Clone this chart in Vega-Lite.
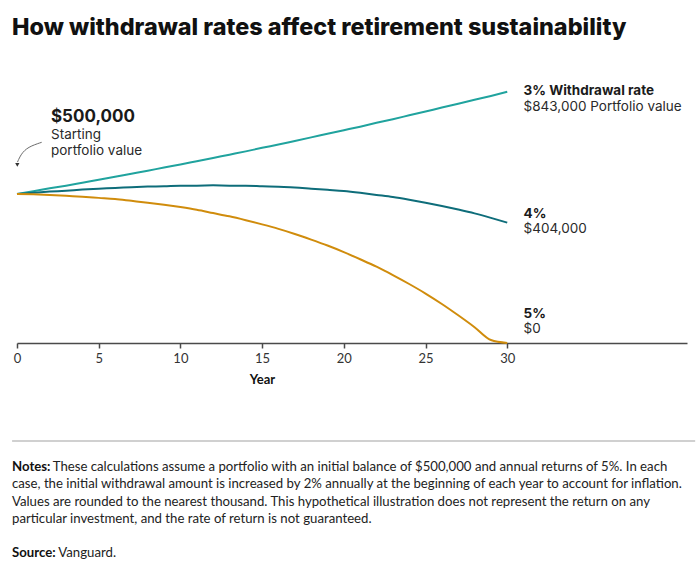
{
  "$schema": "https://vega.github.io/schema/vega-lite/v6.json",
  "width": 670,
  "height": 298,
  "autosize": "none",
  "padding": {"left": 17, "top": 45, "right": 13, "bottom": 226},
  "background": "#ffffff",
  "config": {"view": {"stroke": null}, "font": "Lato"},
  "title": {
    "text": "How withdrawal rates affect retirement sustainability",
    "anchor": "start",
    "frame": "group",
    "dx": -5,
    "dy": 26,
    "offset": 13,
    "baseline": "alphabetic",
    "fontSize": 23.4,
    "font": "Inter",
    "fontWeight": 800,
    "color": "#111111"
  },
  "datasets": {
    "series": [
      {"year": 0, "rate": "3%", "value": 500000}, {"year": 1, "rate": "3%", "value": 509000}, {"year": 2, "rate": "3%", "value": 519000}, {"year": 3, "rate": "3%", "value": 528000}, {"year": 4, "rate": "3%", "value": 538000}, {"year": 5, "rate": "3%", "value": 548000}, {"year": 6, "rate": "3%", "value": 558000}, {"year": 7, "rate": "3%", "value": 568000}, {"year": 8, "rate": "3%", "value": 578000}, {"year": 9, "rate": "3%", "value": 589000}, {"year": 10, "rate": "3%", "value": 599000}, {"year": 11, "rate": "3%", "value": 610000}, {"year": 12, "rate": "3%", "value": 621000}, {"year": 13, "rate": "3%", "value": 632000}, {"year": 14, "rate": "3%", "value": 643000}, {"year": 15, "rate": "3%", "value": 655000}, {"year": 16, "rate": "3%", "value": 666000}, {"year": 17, "rate": "3%", "value": 678000}, {"year": 18, "rate": "3%", "value": 690000}, {"year": 19, "rate": "3%", "value": 702000}, {"year": 20, "rate": "3%", "value": 714000}, {"year": 21, "rate": "3%", "value": 726000}, {"year": 22, "rate": "3%", "value": 739000}, {"year": 23, "rate": "3%", "value": 751000}, {"year": 24, "rate": "3%", "value": 764000}, {"year": 25, "rate": "3%", "value": 777000}, {"year": 26, "rate": "3%", "value": 790000}, {"year": 27, "rate": "3%", "value": 803000}, {"year": 28, "rate": "3%", "value": 816000}, {"year": 29, "rate": "3%", "value": 829000}, {"year": 30, "rate": "3%", "value": 843000},
      {"year": 0, "rate": "4%", "value": 500000}, {"year": 1, "rate": "4%", "value": 504000}, {"year": 2, "rate": "4%", "value": 508000}, {"year": 3, "rate": "4%", "value": 511000}, {"year": 4, "rate": "4%", "value": 515000}, {"year": 5, "rate": "4%", "value": 518000}, {"year": 6, "rate": "4%", "value": 520000}, {"year": 7, "rate": "4%", "value": 523000}, {"year": 8, "rate": "4%", "value": 525000}, {"year": 9, "rate": "4%", "value": 526000}, {"year": 10, "rate": "4%", "value": 528000}, {"year": 11, "rate": "4%", "value": 528000}, {"year": 12, "rate": "4%", "value": 529000}, {"year": 13, "rate": "4%", "value": 528000}, {"year": 14, "rate": "4%", "value": 528000}, {"year": 15, "rate": "4%", "value": 526000}, {"year": 16, "rate": "4%", "value": 524000}, {"year": 17, "rate": "4%", "value": 522000}, {"year": 18, "rate": "4%", "value": 518000}, {"year": 19, "rate": "4%", "value": 514000}, {"year": 20, "rate": "4%", "value": 510000}, {"year": 21, "rate": "4%", "value": 504000}, {"year": 22, "rate": "4%", "value": 497000}, {"year": 23, "rate": "4%", "value": 490000}, {"year": 24, "rate": "4%", "value": 481000}, {"year": 25, "rate": "4%", "value": 471000}, {"year": 26, "rate": "4%", "value": 460000}, {"year": 27, "rate": "4%", "value": 448000}, {"year": 28, "rate": "4%", "value": 435000}, {"year": 29, "rate": "4%", "value": 420000}, {"year": 30, "rate": "4%", "value": 404000},
      {"year": 0, "rate": "5%", "value": 500000}, {"year": 1, "rate": "5%", "value": 499000}, {"year": 2, "rate": "5%", "value": 497000}, {"year": 3, "rate": "5%", "value": 494000}, {"year": 4, "rate": "5%", "value": 491000}, {"year": 5, "rate": "5%", "value": 487000}, {"year": 6, "rate": "5%", "value": 483000}, {"year": 7, "rate": "5%", "value": 477000}, {"year": 8, "rate": "5%", "value": 471000}, {"year": 9, "rate": "5%", "value": 464000}, {"year": 10, "rate": "5%", "value": 456000}, {"year": 11, "rate": "5%", "value": 447000}, {"year": 12, "rate": "5%", "value": 436000}, {"year": 13, "rate": "5%", "value": 425000}, {"year": 14, "rate": "5%", "value": 412000}, {"year": 15, "rate": "5%", "value": 398000}, {"year": 16, "rate": "5%", "value": 383000}, {"year": 17, "rate": "5%", "value": 366000}, {"year": 18, "rate": "5%", "value": 347000}, {"year": 19, "rate": "5%", "value": 327000}, {"year": 20, "rate": "5%", "value": 305000}, {"year": 21, "rate": "5%", "value": 281000}, {"year": 22, "rate": "5%", "value": 256000}, {"year": 23, "rate": "5%", "value": 228000}, {"year": 24, "rate": "5%", "value": 198000}, {"year": 25, "rate": "5%", "value": 166000}, {"year": 26, "rate": "5%", "value": 131000}, {"year": 27, "rate": "5%", "value": 93000}, {"year": 28, "rate": "5%", "value": 53000}, {"year": 29, "rate": "5%", "value": 10000}, {"year": 30, "rate": "5%", "value": 0}
    ]
  },
  "layer": [
    {
      "data": {"name": "series"},
      "mark": {"type": "line", "interpolate": "monotone", "strokeWidth": 2, "clip": false},
      "encoding": {
        "x": {
          "field": "year",
          "type": "quantitative",
          "scale": {"domain": [0, 41], "nice": false, "zero": false},
          "axis": {
            "title": "Year",
            "values": [0, 5, 10, 15, 20, 25, 30],
            "grid": false,
            "domainColor": "#4a4a4a",
            "domainWidth": 1.5,
            "tickColor": "#4a4a4a",
            "tickWidth": 1.5,
            "tickSize": 5,
            "labelFont": "Lato",
            "labelFontSize": 13,
            "labelColor": "#333333",
            "labelPadding": 4,
            "labelFlush": false,
            "titleFont": "Lato",
            "titleFontSize": 13,
            "titleFontWeight": "bold",
            "titleColor": "#111111",
            "titleX": 245,
            "titleY": 36,
            "titleAlign": "center",
            "titleBaseline": "middle"
          }
        },
        "y": {
          "field": "value",
          "type": "quantitative",
          "scale": {"domain": [0, 1000000], "nice": false},
          "axis": null
        },
        "color": {
          "field": "rate",
          "type": "nominal",
          "scale": {"domain": ["3%", "4%", "5%"], "range": ["#20a39e", "#0e6d7a", "#d08c0c"]},
          "legend": null
        }
      }
    },
    {
      "data": {"values": [{}]},
      "mark": {"type": "rule", "stroke": "#d0d0d0", "strokeWidth": 2, "clip": false},
      "encoding": {
        "x": {"datum": -0.3, "type": "quantitative"},
        "x2": {"datum": 41.5},
        "y": {"datum": -329000, "type": "quantitative"}
      }
    },
    {
      "data": {"values": [
        {"x": 0.03, "y": 607000},
        {"x": 0.245, "y": 634000},
        {"x": 0.67, "y": 658000},
        {"x": 1.51, "y": 673500}
      ]},
      "mark": {"type": "line", "interpolate": "basis", "stroke": "#6b6b6b", "strokeWidth": 1, "clip": false},
      "encoding": {
        "x": {"field": "x", "type": "quantitative"},
        "y": {"field": "y", "type": "quantitative"}
      }
    },
    {
      "data": {"values": [{"x": 0.02, "y": 598000}]},
      "mark": {"type": "point", "shape": "triangle-down", "filled": true, "size": 18, "color": "#333333", "opacity": 1, "clip": false},
      "encoding": {
        "x": {"field": "x", "type": "quantitative"},
        "y": {"field": "y", "type": "quantitative"}
      }
    },
    {
      "data": {"values": [{"x": 2.08, "y": 758000, "text": "$500,000"}]},
      "mark": {"type": "text", "align": "left", "baseline": "middle", "font": "Inter", "fontSize": 17, "fontWeight": "bold", "color": "#1a1a1a", "clip": false},
      "encoding": {
        "x": {"field": "x", "type": "quantitative"},
        "y": {"field": "y", "type": "quantitative"},
        "text": {"field": "text"}
      }
    },
    {
      "data": {"values": [
        {"x": 31, "y": 846000, "text": "3% Withdrawal rate"},
        {"x": 31, "y": 432000, "text": "4%"},
        {"x": 31, "y": 97000, "text": "5%"}
      ]},
      "mark": {"type": "text", "align": "left", "baseline": "middle", "font": "Inter", "fontSize": 13.5, "fontWeight": "bold", "color": "#1a1a1a", "clip": false},
      "encoding": {
        "x": {"field": "x", "type": "quantitative"},
        "y": {"field": "y", "type": "quantitative"},
        "text": {"field": "text"}
      }
    },
    {
      "data": {"values": [
        {"x": 31, "y": 793000, "text": "$843,000 Portfolio value"},
        {"x": 31, "y": 381000, "text": "$404,000"},
        {"x": 31, "y": 46000, "text": "$0"},
        {"x": 2.08, "y": 697000, "text": "Starting"},
        {"x": 2.08, "y": 643000, "text": "portfolio value"}
      ]},
      "mark": {"type": "text", "align": "left", "baseline": "middle", "font": "Inter", "fontSize": 13.5, "color": "#2a2a2a", "clip": false},
      "encoding": {
        "x": {"field": "x", "type": "quantitative"},
        "y": {"field": "y", "type": "quantitative"},
        "text": {"field": "text"}
      }
    },
    {
      "data": {"values": [
        {"x": -0.306, "y": -415000, "text": "Notes:"},
        {"x": -0.306, "y": -706000, "text": "Source:"}
      ]},
      "mark": {"type": "text", "align": "left", "baseline": "middle", "font": "Lato", "fontSize": 13.2, "fontWeight": "bold", "color": "#111111", "clip": false},
      "encoding": {
        "x": {"field": "x", "type": "quantitative"},
        "y": {"field": "y", "type": "quantitative"},
        "text": {"field": "text"}
      }
    },
    {
      "data": {"values": [
        {"x": 2.185, "y": -415000, "text": "These calculations assume a portfolio with an initial balance of $500,000 and annual returns of 5%. In each"},
        {"x": -0.306, "y": -473000, "text": "case, the initial withdrawal amount is increased by 2% annually at the beginning of each year to account for inflation."},
        {"x": -0.306, "y": -532000, "text": "Values are rounded to the nearest thousand. This hypothetical illustration does not represent the return on any"},
        {"x": -0.306, "y": -592000, "text": "particular investment, and the rate of return is not guaranteed."},
        {"x": 2.53, "y": -706000, "text": "Vanguard."}
      ]},
      "mark": {"type": "text", "align": "left", "baseline": "middle", "font": "Lato", "fontSize": 13.2, "color": "#222222", "clip": false},
      "encoding": {
        "x": {"field": "x", "type": "quantitative"},
        "y": {"field": "y", "type": "quantitative"},
        "text": {"field": "text"}
      }
    }
  ]
}
